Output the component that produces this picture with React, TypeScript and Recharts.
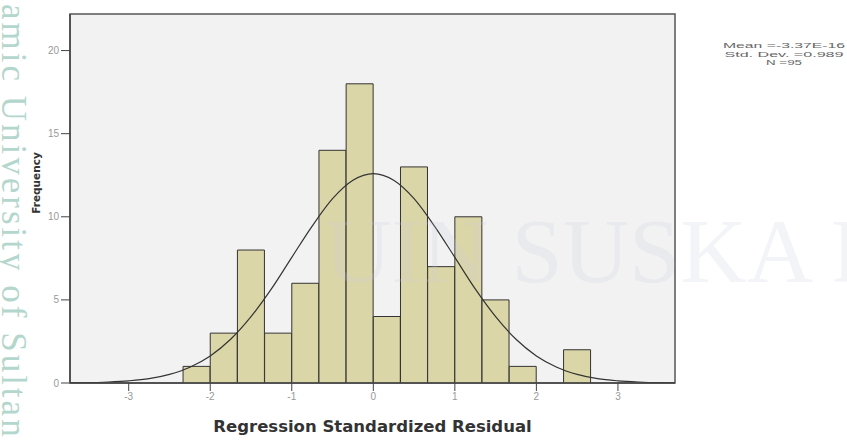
import React from "react";
import {
  ComposedChart,
  Bar,
  Line,
  XAxis,
  YAxis,
  ReferenceArea,
  Label,
} from "recharts";

// Histogram bins (bin centres, width 1/3) and frequencies
const binMid = [
  -2.1667, -1.8333, -1.5, -1.1667, -0.8333, -0.5, -0.1667, 0.1667, 0.5,
  0.8333, 1.1667, 1.5, 1.8333, 2.1667, 2.5,
];
const freq = [1, 3, 8, 3, 6, 14, 18, 4, 13, 7, 10, 5, 1, 0, 2];

// Normal curve
const curveX = [
  -3.72, -3.5, -3.25, -3.0, -2.75, -2.5, -2.25, -2.0, -1.75, -1.5, -1.25, -1.0,
  -0.75, -0.5, -0.25, 0, 0.25, 0.5, 0.75, 1.0, 1.25, 1.5, 1.75, 2.0, 2.25, 2.5,
  2.75, 3.0, 3.25, 3.5, 3.7,
];
const curveY = [
  0.01, 0.02, 0.06, 0.13, 0.26, 0.52, 0.95, 1.63, 2.63, 3.99, 5.66, 7.56, 9.44,
  11.09, 12.2, 12.6, 12.2, 11.09, 9.44, 7.56, 5.66, 3.99, 2.63, 1.63, 0.95,
  0.52, 0.26, 0.13, 0.06, 0.02, 0.01,
];

const xTicks = [-3, -2, -1, 0, 1, 2, 3];
const yTicks = [0, 5, 10, 15, 20];
const xDomain: [number, number] = [-3.72, 3.7];
const yDomain: [number, number] = [0, 22.2];

const legendLines = ["Mean =-3.37E-16", "Std. Dev. =0.989", "N =95"];
const legendWidths = [122, 119, 36];

const barData = binMid.map((x, i) => ({ x, count: freq[i] }));
const curveData = curveX.map((x, i) => ({ x, y: curveY[i] }));

export default function App() {
  return (
    <div
      style={{
        position: "absolute",
        left: 0,
        top: 0,
        width: 847,
        height: 442,
        background: "#ffffff",
        overflow: "hidden",
      }}
    >
      <ComposedChart
        width={847}
        height={442}
        data={barData}
        barCategoryGap={0}
        barGap={0}
        margin={{ top: 14, right: 172, bottom: 29, left: 30 }}
      >
        <XAxis
          xAxisId="main"
          dataKey="x"
          type="number"
          domain={xDomain}
          ticks={xTicks}
          allowDataOverflow
          height={30}
          axisLine={{ stroke: "#444", strokeWidth: 1.5 }}
          tickLine={{ stroke: "#444" }}
          tickSize={8}
          tick={{ fill: "#999", fontSize: 10, fontFamily: "Arial, Liberation Sans" }}
          tickFormatter={(v: number) => String(v)}
        >
          <Label
            value="Regression Standardized Residual"
            position="bottom"
            offset={7}
            style={{
              fill: "#333",
              fontSize: 16.5,
              fontWeight: "bold",
              fontFamily: "DejaVu Sans",
            }}
          />
        </XAxis>
        <XAxis
          xAxisId="bins"
          dataKey="x"
          type="number"
          domain={xDomain}
          allowDataOverflow
          height={0}
          hide
        />
        <YAxis
          type="number"
          domain={yDomain}
          ticks={yTicks}
          allowDataOverflow
          width={40}
          axisLine={{ stroke: "#444", strokeWidth: 1.5 }}
          tickLine={{ stroke: "#444" }}
          tickSize={9}
          tick={{ fill: "#999", fontSize: 10, fontFamily: "Arial, Liberation Sans" }}
        />
        <ReferenceArea
          xAxisId="main"
          x1={xDomain[0]}
          x2={xDomain[1]}
          y1={yDomain[0]}
          y2={yDomain[1]}
          fill="#f2f2f2"
          fillOpacity={1}
          stroke="#555"
          strokeWidth={1.5}
          ifOverflow="extendDomain"
        />
        <Bar
          xAxisId="bins"
          dataKey="count"
          fill="#dbd6a8"
          stroke="#333"
          strokeWidth={1}
          isAnimationActive={false}
        />
        <Line
          xAxisId="main"
          data={curveData}
          dataKey="y"
          type="monotone"
          stroke="#333"
          strokeWidth={1.2}
          dot={false}
          activeDot={false}
          isAnimationActive={false}
        />
      </ComposedChart>
      <svg
        width={847}
        height={442}
        style={{ position: "absolute", left: 0, top: 0, pointerEvents: "none" }}
      >
        <text
          transform="translate(37,183) rotate(-90)"
          textAnchor="middle"
          dominantBaseline="middle"
          fontFamily="DejaVu Sans"
          fontWeight="bold"
          fontSize={10.5}
          fill="#333"
        >
          Frequency
        </text>
        {legendLines.map((t, i) => (
          <text
            key={t}
            x={784 - legendWidths[i] / 2}
            y={48 + i * 8.7}
            textLength={legendWidths[i]}
            lengthAdjust="spacingAndGlyphs"
            fontFamily="Arial, Liberation Sans"
            fontSize={8}
            fill="#666"
          >
            {t}
          </text>
        ))}
        <text
          transform="translate(2,-40) rotate(90)"
          fontFamily="Liberation Serif"
          fontSize={35}
          letterSpacing={3}
          fill="#9ccabd"
          opacity={0.75}
        >
          Islamic University of Sultan
        </text>
        <text
          x={325}
          y={282}
          fontFamily="Liberation Serif"
          fontSize={92}
          fill="#c8cce0"
          opacity={0.2}
        >
          UIN SUSKA R
        </text>
      </svg>
    </div>
  );
}
